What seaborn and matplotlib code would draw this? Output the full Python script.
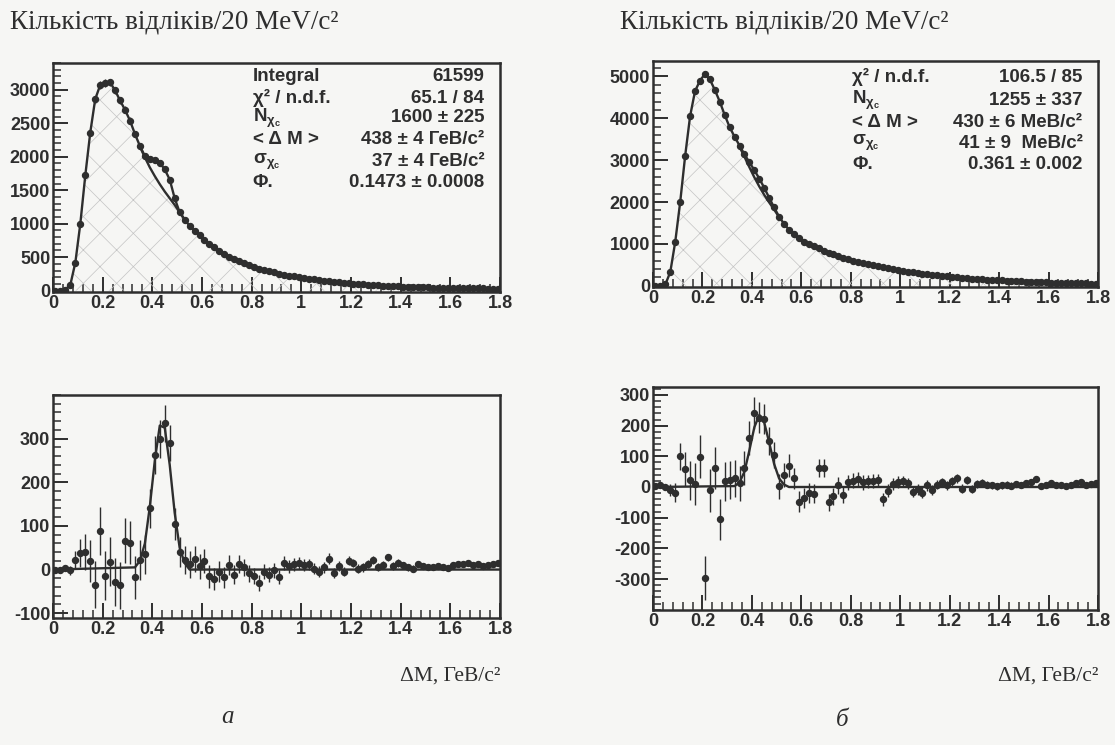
import numpy as np
import seaborn as sns
import matplotlib.pyplot as plt
from matplotlib.ticker import MultipleLocator, FuncFormatter

# histogram binning: 20 MeV/c^2 bins from 0 to 1.8 GeV/c^2
BIN_WIDTH = 0.02
N_BINS = 90

# panel a: counts per bin (top), residuals after background subtraction (bottom)
counts_a = [0, 0, 15, 90, 420, 1000, 1720, 2360, 2860, 3070,
            3100, 3110, 2990, 2840, 2700, 2540, 2340, 2160, 2010, 1960,
            1950, 1910, 1810, 1660, 1380, 1170, 1060, 970, 895, 825,
            760, 700, 645, 595, 550, 510, 475, 440, 410, 380,
            355, 330, 310, 290, 272, 255, 240, 226, 212, 200,
            188, 177, 167, 158, 149, 140, 132, 125, 118, 111,
            105, 99, 94, 89, 84, 80, 76, 72, 68, 65,
            62, 59, 56, 53, 51, 49, 47, 45, 43, 41,
            40, 38, 37, 36, 35, 34, 33, 32, 31, 30]
bkg_a_x = [0.35, 0.37, 0.39, 0.41, 0.43, 0.45, 0.47, 0.49, 0.51, 0.53]
bkg_a_y = [2150, 1990, 1840, 1710, 1590, 1480, 1380, 1280, 1170, 1065]
resid_a = [0, 0, 3, -2, 22, 38, 40, 20, -35, 88,
           -14, 18, -28, -36, 66, 62, -18, 22, 35, 140,
           262, 300, 335, 290, 105, 40, 22, 12, 25, 8,
           20, -15, -22, -5, -18, 10, -12, 12, 5, -8,
           -15, -30, -5, -12, -2, -18, 15, 8, 12, 15,
           10, 12, 2, -5, 5, 25, -8, 8, -5, 20,
           15, 2, 5, 12, 22, 5, 10, 28, 8, 15,
           10, 5, 2, 12, 8, 5, 6, 8, 5, 4,
           10, 12, 12, 14, 10, 12, 8, 10, 13, 15]
fit_a_x = [0.0, 0.33, 0.35, 0.37, 0.39, 0.41, 0.43, 0.45, 0.47, 0.49, 0.51, 0.53, 0.55, 1.8]
fit_a_y = [0, 5, 20, 60, 145, 250, 330, 325, 240, 130, 50, 15, 0, 0]
stats_a_names = ['Integral', 'χ² / n.d.f.', r'N$_{\chi_c}$', '< Δ M >', r'σ$_{\chi_c}$', 'Φ.']
stats_a_values = ['61599', '65.1 / 84', '1600 ± 225', '438 ± 4 ГеВ/c²', '37 ± 4 ГеВ/c²', '0.1473 ± 0.0008']

# panel b
counts_b = [0, 0, 30, 330, 1050, 2000, 3100, 4050, 4650, 4900,
            5060, 4930, 4680, 4400, 4080, 3790, 3560, 3350, 3140, 2950,
            2760, 2560, 2340, 2100, 1870, 1650, 1480, 1340, 1230, 1130,
            1050, 990, 940, 890, 840, 790, 750, 710, 670, 635,
            600, 568, 538, 510, 484, 460, 436, 414, 393, 373,
            354, 336, 319, 303, 288, 274, 260, 247, 235, 223,
            212, 201, 191, 181, 172, 164, 156, 148, 141, 134,
            127, 121, 115, 109, 104, 99, 94, 90, 85, 81,
            77, 74, 70, 67, 64, 61, 58, 56, 53, 51]
bkg_b_x = [0.35, 0.37, 0.39, 0.41, 0.43, 0.45, 0.47, 0.49, 0.51]
bkg_b_y = [3320, 3080, 2830, 2590, 2370, 2170, 1990, 1820, 1640]
resid_b = [2, 5, 0, -10, -18, 100, 58, 22, 10, 98,
           -296, -10, 62, -105, 18, 22, 28, 12, 62, 160,
           240, 226, 222, 150, 105, 2, 40, 70, 28, -48,
           -35, -20, -22, 62, 62, -50, -30, 5, -25, 15,
           20, 25, 15, 18, 20, 22, -40, -12, 10, 15,
           18, 12, -15, -8, -18, 5, -10, 8, 15, 5,
           18, 28, -5, 22, -8, 10, 12, 8, 5, 3,
           6, 8, 4, 10, 6, 12, 15, 25, 2, 6,
           12, 8, 5, 3, 8, 12, 15, 8, 10, 12]
fit_b_x = [0.0, 0.33, 0.35, 0.37, 0.39, 0.41, 0.43, 0.45, 0.47, 0.49, 0.51, 0.53, 0.55, 1.8]
fit_b_y = [0, 3, 15, 50, 120, 195, 235, 210, 145, 75, 28, 8, 0, 0]
stats_b_names = ['χ² / n.d.f.', r'N$_{\chi_c}$', '< Δ M >', r'σ$_{\chi_c}$', 'Φ.']
stats_b_values = ['106.5 / 85', '1255 ± 337', '430 ± 6 МеВ/c²', '41 ± 9  МеВ/c²', '0.361 ± 0.002']

Y_TITLE = 'Кількість відліків/20 MeV/c²'
X_TITLE = 'ΔM, ГеВ/c²'

INK = '#2e2e2e'
PAPER = '#f6f6f4'
HATCH = '#c4c4c4'

sns.set_style('ticks')
plt.rcParams['font.family'] = ['Liberation Sans', 'DejaVu Sans']
plt.rcParams['mathtext.fontset'] = 'custom'
plt.rcParams['mathtext.rm'] = 'Liberation Sans:bold'
plt.rcParams['mathtext.it'] = 'Liberation Sans:bold'
plt.rcParams['mathtext.bf'] = 'Liberation Sans:bold'
plt.rcParams['mathtext.default'] = 'regular'
plt.rcParams['hatch.linewidth'] = 0.5
plt.rcParams['hatch.color'] = HATCH

x = np.arange(N_BINS) * BIN_WIDTH + BIN_WIDTH / 2


def style_axes(ax, ylim, yticks, yminor):
    ax.set_facecolor(PAPER)
    ax.set_xlim(0, 1.8)
    ax.set_ylim(*ylim)
    ax.set_yticks(yticks)
    ax.xaxis.set_major_locator(MultipleLocator(0.2))
    ax.xaxis.set_minor_locator(MultipleLocator(0.04))
    ax.yaxis.set_minor_locator(MultipleLocator(yminor))
    ax.xaxis.set_major_formatter(FuncFormatter(lambda v, p: '%g' % round(v, 2)))
    ax.yaxis.set_major_formatter(FuncFormatter(lambda v, p: '%d' % v))
    for s in ax.spines.values():
        s.set_visible(True)
        s.set_linewidth(1.8)
        s.set_color(INK)
    ax.tick_params(which='major', direction='in', length=11, width=1.4, color=INK,
                   top=False, right=False, labelsize=13, labelcolor=INK, pad=2)
    ax.tick_params(which='minor', direction='in', length=6, width=1.1, color=INK,
                   top=False, right=False)
    for lab in ax.get_xticklabels() + ax.get_yticklabels():
        lab.set_fontweight('bold')
    ax.set_xlabel('')
    ax.set_ylabel('')


def draw_top(ax, counts, bkg_x, bkg_y, names, values, rows_y, ylim, yticks, yminor):
    counts = np.array(counts, dtype=float)
    base = counts.copy()
    for bx, by in zip(bkg_x, bkg_y):
        base[int(round((bx - BIN_WIDTH / 2) / BIN_WIDTH))] = by
    ax.fill_between(x, 0, base, facecolor='none', edgecolor=HATCH, hatch='x', lw=0)
    ax.errorbar(x, counts, yerr=np.sqrt(counts), xerr=BIN_WIDTH / 2, fmt='o', ms=4.3,
                color=INK, elinewidth=1.0, capsize=0, zorder=3)
    sns.lineplot(x=x, y=counts, ax=ax, color=INK, lw=1.7, zorder=4)
    sns.lineplot(x=bkg_x, y=bkg_y, ax=ax, color=INK, lw=1.7, zorder=4)
    style_axes(ax, ylim, yticks, yminor)
    for name, val, yy in zip(names, values, rows_y):
        ax.text(0.447, yy, name, transform=ax.transAxes, fontsize=13.5, fontweight='bold',
                color=INK, va='center', ha='left')
        ax.text(0.965, yy, val, transform=ax.transAxes, fontsize=13.5, fontweight='bold',
                color=INK, va='center', ha='right')


def draw_bottom(ax, counts, resid, fit_x, fit_y, ylim, yticks):
    err = np.sqrt(np.array(counts, dtype=float))
    ax.errorbar(x, resid, yerr=err, xerr=BIN_WIDTH / 2, fmt='o', ms=4.3,
                color=INK, elinewidth=1.0, capsize=0, zorder=3)
    sns.lineplot(x=fit_x, y=fit_y, ax=ax, color=INK, lw=1.7, zorder=4)
    style_axes(ax, ylim, yticks, 20)


fig = plt.figure(figsize=(11.15, 7.45), dpi=100)
fig.patch.set_facecolor(PAPER)

W, H = 1115.0, 745.0


def add_ax(l, t, r, b):
    return fig.add_axes([l / W, 1 - b / H, (r - l) / W, (b - t) / H])


ax1 = add_ax(53, 63, 500, 292)
ax2 = add_ax(653, 61, 1098, 287)
ax3 = add_ax(53, 395, 500, 618)
ax4 = add_ax(653, 387, 1098, 610)

draw_top(ax1, counts_a, bkg_a_x, bkg_a_y, stats_a_names, stats_a_values,
         [0.939, 0.847, 0.760, 0.664, 0.568, 0.476], (-20, 3400), range(0, 3001, 500), 100)
draw_top(ax2, counts_b, bkg_b_x, bkg_b_y, stats_b_names, stats_b_values,
         [0.929, 0.827, 0.730, 0.637, 0.540], (-30, 5370), range(0, 5001, 1000), 200)
draw_bottom(ax3, counts_a, resid_a, fit_a_x, fit_a_y, (-111, 400), [-100, 0, 100, 200, 300])
draw_bottom(ax4, counts_b, resid_b, fit_b_x, fit_b_y, (-401, 326), [-300, -200, -100, 0, 100, 200, 300])

serif = ['Liberation Serif', 'DejaVu Serif']
fig.text(10 / W, 1 - 22 / H, Y_TITLE, family=serif, fontsize=19.5, color=INK, va='center', ha='left')
fig.text(620 / W, 1 - 22 / H, Y_TITLE, family=serif, fontsize=19.5, color=INK, va='center', ha='left')
fig.text(500 / W, 1 - 676 / H, X_TITLE, family=serif, fontsize=15.5, color=INK, va='center', ha='right')
fig.text(1098 / W, 1 - 676 / H, X_TITLE, family=serif, fontsize=15.5, color=INK, va='center', ha='right')
fig.text(228 / W, 1 - 717 / H, 'а', family=serif, style='italic', fontsize=18, color=INK, va='center', ha='center')
fig.text(842 / W, 1 - 720 / H, 'б', family=serif, style='italic', fontsize=18, color=INK, va='center', ha='center')

fig.savefig('out.png', dpi=100, facecolor=PAPER)
